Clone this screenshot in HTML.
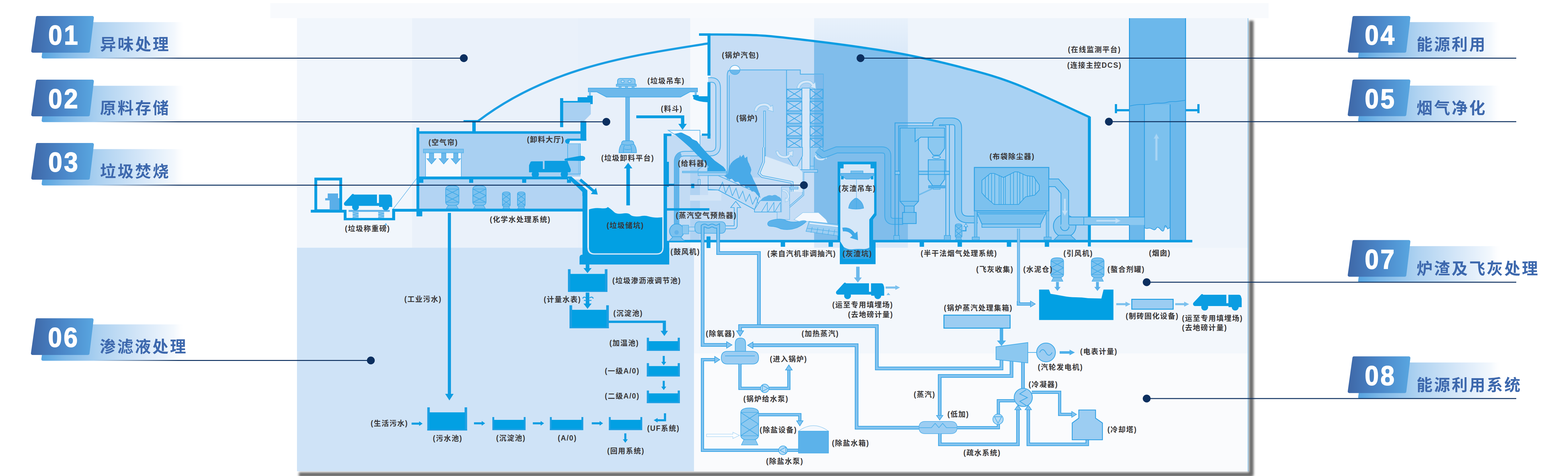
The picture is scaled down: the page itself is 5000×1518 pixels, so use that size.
<!DOCTYPE html>
<html lang="zh"><head><meta charset="utf-8"><title>垃圾焚烧发电工艺流程</title>
<style>
html,body{margin:0;padding:0;background:#fff}
body{width:5000px;height:1518px;position:relative;font-family:"Liberation Sans","Noto Sans CJK SC",sans-serif}
#stage{position:absolute;left:0;top:0;width:5000px;height:1518px;overflow:hidden}
svg{position:absolute;left:0;top:0}
.lb{position:absolute;white-space:nowrap;text-align:center;font-weight:bold;color:#383637;letter-spacing:2px;line-height:1.5;height:1.5em}
.bn{position:absolute;color:#fff;font-weight:bold;font-size:88px;line-height:88px;width:260px;text-align:left;transform:scaleX(0.91);transform-origin:0 50%;letter-spacing:6px;-webkit-text-stroke:2px #fff}
.bt{position:absolute;color:#3d68ad;font-weight:bold;font-size:51px;line-height:60px;letter-spacing:5px;white-space:nowrap}
</style></head>
<body><div id="stage">
<svg width="5000" height="1518" viewBox="0 0 5000 1518">
<defs>
<filter id="sh" filterUnits="userSpaceOnUse" x="900" y="0" width="3200" height="1600"><feGaussianBlur stdDeviation="3.6"/></filter>
<linearGradient id="gb" x1="0" y1="0" x2="1" y2="0"><stop offset="0" stop-color="#3e68a8"/><stop offset="0.5" stop-color="#4a86c8"/><stop offset="1" stop-color="#58a5df"/></linearGradient>
<linearGradient id="gband" x1="0" y1="0" x2="1" y2="0"><stop offset="0" stop-color="#55a3df"/><stop offset="0.18" stop-color="#86bde9"/><stop offset="0.42" stop-color="#b9d8f3"/><stop offset="0.7" stop-color="#e2eefa"/><stop offset="1" stop-color="#ffffff" stop-opacity="0"/></linearGradient>
<linearGradient id="gline" x1="0" y1="0" x2="1" y2="0"><stop offset="0" stop-color="#0c2f5f" stop-opacity="0"/><stop offset="1" stop-color="#0c2f5f"/></linearGradient>
<clipPath id="cz1"><rect x="2000" y="0" width="596" height="1518"/></clipPath>
<clipPath id="cz2"><rect x="2596" y="0" width="299" height="1518"/></clipPath>
<clipPath id="cz3"><rect x="2895" y="0" width="700" height="1518"/></clipPath>
</defs>
<rect x="862" y="10" width="3183" height="48" fill="#f8fafd" />
<path d="M3990,66 V1513.5 H953" fill="none" stroke="#6a6a6a" stroke-width="14.5" stroke-linejoin="round" filter="url(#sh)"/>
<rect x="947" y="58" width="3033" height="1445" fill="#f1f6fc" />
<rect x="1314" y="58" width="529" height="732" fill="#eaf1fa" />
<rect x="1843" y="58" width="358" height="732" fill="#e8f0fa" />
<rect x="2201" y="58" width="395" height="732" fill="#f6f9fd" />
<defs><linearGradient id="gC" x1="0" y1="0" x2="0" y2="1"><stop offset="0" stop-color="#e8f1fb"/><stop offset="0.17" stop-color="#d9e8f8"/><stop offset="1" stop-color="#dbe9f8"/></linearGradient></defs>
<rect x="2596" y="58" width="299" height="732" fill="url(#gC)" />
<rect x="2895" y="58" width="1085" height="732" fill="#eef4fb" />
<rect x="947" y="790" width="1266" height="713" fill="#cfe3f7" />
<rect x="2213" y="790" width="1767" height="337" fill="#f3f7fc" />
<rect x="2213" y="1127" width="1767" height="376" fill="#fafbfd" />
<rect x="3978.8" y="58" width="1.6" height="1445" fill="#5aaee8" />
<path d="M148,70.5 L593,70.5 L593,186.5 L139,186.5 Q132,186.5 133,179.5 Z" fill="url(#gband_01)"/>
<defs><linearGradient id="gband_01" gradientUnits="userSpaceOnUse" x1="133" y1="0" x2="593" y2="0"><stop offset="0" stop-color="#55a3df"/><stop offset="0.15" stop-color="#7db8e8"/><stop offset="0.42" stop-color="#b0d3f1"/><stop offset="0.72" stop-color="#d9e9f9"/><stop offset="0.92" stop-color="#f3f8fd"/><stop offset="1" stop-color="#ffffff" stop-opacity="0"/></linearGradient><linearGradient id="gb_01" gradientUnits="userSpaceOnUse" x1="99" y1="0" x2="298" y2="0"><stop offset="0" stop-color="#3e67a7"/><stop offset="0.5" stop-color="#4a86c8"/><stop offset="1" stop-color="#59a6e0"/></linearGradient><linearGradient id="gl_01" gradientUnits="userSpaceOnUse" x1="299" y1="0" x2="569" y2="0"><stop offset="0" stop-color="#0c2f5f" stop-opacity="0"/><stop offset="1" stop-color="#0c2f5f"/></linearGradient></defs>
<rect x="299" y="184" width="272" height="3" fill="url(#gl_01)"/>
<polygon points="104.6,163 119.6,56 294.4,56 281.4,163" fill="url(#gb_01)" stroke="url(#gb_01)" stroke-width="10" stroke-linejoin="round"/>
<path d="M148,273.5 L593,273.5 L593,389.5 L139,389.5 Q132,389.5 133,382.5 Z" fill="url(#gband_02)"/>
<defs><linearGradient id="gband_02" gradientUnits="userSpaceOnUse" x1="133" y1="0" x2="593" y2="0"><stop offset="0" stop-color="#55a3df"/><stop offset="0.15" stop-color="#7db8e8"/><stop offset="0.42" stop-color="#b0d3f1"/><stop offset="0.72" stop-color="#d9e9f9"/><stop offset="0.92" stop-color="#f3f8fd"/><stop offset="1" stop-color="#ffffff" stop-opacity="0"/></linearGradient><linearGradient id="gb_02" gradientUnits="userSpaceOnUse" x1="99" y1="0" x2="298" y2="0"><stop offset="0" stop-color="#3e67a7"/><stop offset="0.5" stop-color="#4a86c8"/><stop offset="1" stop-color="#59a6e0"/></linearGradient><linearGradient id="gl_02" gradientUnits="userSpaceOnUse" x1="299" y1="0" x2="569" y2="0"><stop offset="0" stop-color="#0c2f5f" stop-opacity="0"/><stop offset="1" stop-color="#0c2f5f"/></linearGradient></defs>
<rect x="299" y="387" width="272" height="3" fill="url(#gl_02)"/>
<polygon points="104.6,366 119.6,259 294.4,259 281.4,366" fill="url(#gb_02)" stroke="url(#gb_02)" stroke-width="10" stroke-linejoin="round"/>
<path d="M148,475.5 L593,475.5 L593,591.5 L139,591.5 Q132,591.5 133,584.5 Z" fill="url(#gband_03)"/>
<defs><linearGradient id="gband_03" gradientUnits="userSpaceOnUse" x1="133" y1="0" x2="593" y2="0"><stop offset="0" stop-color="#55a3df"/><stop offset="0.15" stop-color="#7db8e8"/><stop offset="0.42" stop-color="#b0d3f1"/><stop offset="0.72" stop-color="#d9e9f9"/><stop offset="0.92" stop-color="#f3f8fd"/><stop offset="1" stop-color="#ffffff" stop-opacity="0"/></linearGradient><linearGradient id="gb_03" gradientUnits="userSpaceOnUse" x1="99" y1="0" x2="298" y2="0"><stop offset="0" stop-color="#3e67a7"/><stop offset="0.5" stop-color="#4a86c8"/><stop offset="1" stop-color="#59a6e0"/></linearGradient><linearGradient id="gl_03" gradientUnits="userSpaceOnUse" x1="299" y1="0" x2="569" y2="0"><stop offset="0" stop-color="#0c2f5f" stop-opacity="0"/><stop offset="1" stop-color="#0c2f5f"/></linearGradient></defs>
<rect x="299" y="589" width="272" height="3" fill="url(#gl_03)"/>
<polygon points="104.6,568 119.6,461 294.4,461 281.4,568" fill="url(#gb_03)" stroke="url(#gb_03)" stroke-width="10" stroke-linejoin="round"/>
<path d="M147,1034.5 L592,1034.5 L592,1150.5 L138,1150.5 Q131,1150.5 132,1143.5 Z" fill="url(#gband_06)"/>
<defs><linearGradient id="gband_06" gradientUnits="userSpaceOnUse" x1="132" y1="0" x2="592" y2="0"><stop offset="0" stop-color="#55a3df"/><stop offset="0.15" stop-color="#7db8e8"/><stop offset="0.42" stop-color="#b0d3f1"/><stop offset="0.72" stop-color="#d9e9f9"/><stop offset="0.92" stop-color="#f3f8fd"/><stop offset="1" stop-color="#ffffff" stop-opacity="0"/></linearGradient><linearGradient id="gb_06" gradientUnits="userSpaceOnUse" x1="98" y1="0" x2="297" y2="0"><stop offset="0" stop-color="#3e67a7"/><stop offset="0.5" stop-color="#4a86c8"/><stop offset="1" stop-color="#59a6e0"/></linearGradient><linearGradient id="gl_06" gradientUnits="userSpaceOnUse" x1="298" y1="0" x2="568" y2="0"><stop offset="0" stop-color="#0c2f5f" stop-opacity="0"/><stop offset="1" stop-color="#0c2f5f"/></linearGradient></defs>
<rect x="298" y="1148" width="272" height="3" fill="url(#gl_06)"/>
<polygon points="103.6,1127 118.6,1020 293.4,1020 280.4,1127" fill="url(#gb_06)" stroke="url(#gb_06)" stroke-width="10" stroke-linejoin="round"/>
<path d="M4346,70.5 L4791,70.5 L4791,186.5 L4337,186.5 Q4330,186.5 4331,179.5 Z" fill="url(#gband_04)"/>
<defs><linearGradient id="gband_04" gradientUnits="userSpaceOnUse" x1="4331" y1="0" x2="4791" y2="0"><stop offset="0" stop-color="#55a3df"/><stop offset="0.15" stop-color="#7db8e8"/><stop offset="0.42" stop-color="#b0d3f1"/><stop offset="0.72" stop-color="#d9e9f9"/><stop offset="0.92" stop-color="#f3f8fd"/><stop offset="1" stop-color="#ffffff" stop-opacity="0"/></linearGradient><linearGradient id="gb_04" gradientUnits="userSpaceOnUse" x1="4297" y1="0" x2="4496" y2="0"><stop offset="0" stop-color="#3e67a7"/><stop offset="0.5" stop-color="#4a86c8"/><stop offset="1" stop-color="#59a6e0"/></linearGradient><linearGradient id="gl_04" gradientUnits="userSpaceOnUse" x1="4497" y1="0" x2="4767" y2="0"><stop offset="0" stop-color="#0c2f5f" stop-opacity="0"/><stop offset="1" stop-color="#0c2f5f"/></linearGradient></defs>
<polygon points="4302.6,163 4317.6,56 4492.4,56 4479.4,163" fill="url(#gb_04)" stroke="url(#gb_04)" stroke-width="10" stroke-linejoin="round"/>
<path d="M4346,273 L4791,273 L4791,389 L4337,389 Q4330,389 4331,382 Z" fill="url(#gband_05)"/>
<defs><linearGradient id="gband_05" gradientUnits="userSpaceOnUse" x1="4331" y1="0" x2="4791" y2="0"><stop offset="0" stop-color="#55a3df"/><stop offset="0.15" stop-color="#7db8e8"/><stop offset="0.42" stop-color="#b0d3f1"/><stop offset="0.72" stop-color="#d9e9f9"/><stop offset="0.92" stop-color="#f3f8fd"/><stop offset="1" stop-color="#ffffff" stop-opacity="0"/></linearGradient><linearGradient id="gb_05" gradientUnits="userSpaceOnUse" x1="4297" y1="0" x2="4496" y2="0"><stop offset="0" stop-color="#3e67a7"/><stop offset="0.5" stop-color="#4a86c8"/><stop offset="1" stop-color="#59a6e0"/></linearGradient><linearGradient id="gl_05" gradientUnits="userSpaceOnUse" x1="4497" y1="0" x2="4767" y2="0"><stop offset="0" stop-color="#0c2f5f" stop-opacity="0"/><stop offset="1" stop-color="#0c2f5f"/></linearGradient></defs>
<polygon points="4302.6,365.5 4317.6,258.5 4492.4,258.5 4479.4,365.5" fill="url(#gb_05)" stroke="url(#gb_05)" stroke-width="10" stroke-linejoin="round"/>
<path d="M4346,785 L4791,785 L4791,901 L4337,901 Q4330,901 4331,894 Z" fill="url(#gband_07)"/>
<defs><linearGradient id="gband_07" gradientUnits="userSpaceOnUse" x1="4331" y1="0" x2="4791" y2="0"><stop offset="0" stop-color="#55a3df"/><stop offset="0.15" stop-color="#7db8e8"/><stop offset="0.42" stop-color="#b0d3f1"/><stop offset="0.72" stop-color="#d9e9f9"/><stop offset="0.92" stop-color="#f3f8fd"/><stop offset="1" stop-color="#ffffff" stop-opacity="0"/></linearGradient><linearGradient id="gb_07" gradientUnits="userSpaceOnUse" x1="4297" y1="0" x2="4496" y2="0"><stop offset="0" stop-color="#3e67a7"/><stop offset="0.5" stop-color="#4a86c8"/><stop offset="1" stop-color="#59a6e0"/></linearGradient><linearGradient id="gl_07" gradientUnits="userSpaceOnUse" x1="4497" y1="0" x2="4767" y2="0"><stop offset="0" stop-color="#0c2f5f" stop-opacity="0"/><stop offset="1" stop-color="#0c2f5f"/></linearGradient></defs>
<polygon points="4302.6,877.5 4317.6,770.5 4492.4,770.5 4479.4,877.5" fill="url(#gb_07)" stroke="url(#gb_07)" stroke-width="10" stroke-linejoin="round"/>
<path d="M4346,1156 L4791,1156 L4791,1272 L4337,1272 Q4330,1272 4331,1265 Z" fill="url(#gband_08)"/>
<defs><linearGradient id="gband_08" gradientUnits="userSpaceOnUse" x1="4331" y1="0" x2="4791" y2="0"><stop offset="0" stop-color="#55a3df"/><stop offset="0.15" stop-color="#7db8e8"/><stop offset="0.42" stop-color="#b0d3f1"/><stop offset="0.72" stop-color="#d9e9f9"/><stop offset="0.92" stop-color="#f3f8fd"/><stop offset="1" stop-color="#ffffff" stop-opacity="0"/></linearGradient><linearGradient id="gb_08" gradientUnits="userSpaceOnUse" x1="4297" y1="0" x2="4496" y2="0"><stop offset="0" stop-color="#3e67a7"/><stop offset="0.5" stop-color="#4a86c8"/><stop offset="1" stop-color="#59a6e0"/></linearGradient><linearGradient id="gl_08" gradientUnits="userSpaceOnUse" x1="4497" y1="0" x2="4767" y2="0"><stop offset="0" stop-color="#0c2f5f" stop-opacity="0"/><stop offset="1" stop-color="#0c2f5f"/></linearGradient></defs>
<polygon points="4302.6,1248.5 4317.6,1141.5 4492.4,1141.5 4479.4,1248.5" fill="url(#gb_08)" stroke="url(#gb_08)" stroke-width="10" stroke-linejoin="round"/>
<rect x="3600" y="58" width="182" height="707" fill="#6cb8eb" />
<rect x="3649" y="333" width="82" height="393" fill="#7cc1ee" />
<rect x="3649" y="726" width="82" height="39" fill="#eef4fb" />
<path d="M3649,726 q6,4 12,2 t14,3 t12,-3 t14,4 t12,-5 t10,3 l8,-4" fill="#7cc1ee" stroke="#2a9de3" stroke-width="2" />
<rect x="3600" y="58" width="3" height="707" fill="#2a9de3" />
<rect x="3779" y="58" width="3" height="707" fill="#2a9de3" />
<rect x="3648" y="333" width="2.5" height="432" fill="#2a9de3" />
<rect x="3730" y="333" width="2.5" height="432" fill="#2a9de3" />
<path d="M3603,338 q12,-3 22,-4 t24,-1 q14,1 24,-2 t28,-2 q14,0 22,-3 t26,-2 l30,-4" fill="none" stroke="#2a9de3" stroke-width="2" />
<rect x="3555" y="332" width="7" height="29" fill="#0b9de2" />
<rect x="3555" y="348" width="45" height="7" fill="#0b9de2" />
<rect x="3818" y="332" width="7" height="29" fill="#0b9de2" />
<rect x="3782" y="348" width="43" height="7" fill="#0b9de2" />
<polygon points="3687.5,426 3696,442 3691,442 3691,512 3684,512 3684,442 3679,442" fill="#a9d5f4" stroke="#8fc9f1" stroke-width="1.5"/>
<path d="M2229,110 C2245.8,110.0 2294.8,109.6 2330,110.3 C2365.2,111.0 2395.7,110.5 2440,114 C2484.3,117.5 2544.3,124.8 2596,131 C2647.7,137.2 2700.2,144.1 2750,151.5 C2799.8,158.9 2841.7,164.8 2895,175.5 C2948.3,186.2 3012.5,200.5 3070,216 C3127.5,231.5 3172.5,242.2 3240,268.5 C3307.5,294.8 3435.8,356.4 3475,374 L3475,768 L2127,768 L2127,431 L2265,431 L2265,110 Z" fill="#c6ddf5" clip-path="url(#cz1)"/>
<path d="M2229,110 C2245.8,110.0 2294.8,109.6 2330,110.3 C2365.2,111.0 2395.7,110.5 2440,114 C2484.3,117.5 2544.3,124.8 2596,131 C2647.7,137.2 2700.2,144.1 2750,151.5 C2799.8,158.9 2841.7,164.8 2895,175.5 C2948.3,186.2 3012.5,200.5 3070,216 C3127.5,231.5 3172.5,242.2 3240,268.5 C3307.5,294.8 3435.8,356.4 3475,374 L3475,768 L2127,768 L2127,431 L2265,431 L2265,110 Z" fill="#80bdeb" clip-path="url(#cz2)"/>
<path d="M2229,110 C2245.8,110.0 2294.8,109.6 2330,110.3 C2365.2,111.0 2395.7,110.5 2440,114 C2484.3,117.5 2544.3,124.8 2596,131 C2647.7,137.2 2700.2,144.1 2750,151.5 C2799.8,158.9 2841.7,164.8 2895,175.5 C2948.3,186.2 3012.5,200.5 3070,216 C3127.5,231.5 3172.5,242.2 3240,268.5 C3307.5,294.8 3435.8,356.4 3475,374 L3475,768 L2127,768 L2127,431 L2265,431 L2265,110 Z" fill="#a9d2f3" clip-path="url(#cz3)"/>
<rect x="2127" y="431" width="74" height="337" fill="#c2dbf4" />
<rect x="1337" y="426" width="514" height="137" fill="#a9d0f2" />
<rect x="1337" y="572" width="521" height="94" fill="#b3d4f3" />
<polygon points="1796,326 1884,326 1884,364 1862,386.5 1796,386.5" fill="#a9d0f2" />
<rect x="1810" y="458" width="40.5" height="97" fill="#9fcdf2" stroke="#4aaee9" stroke-width="2"/>
<polyline points="1845,458 1845,555" fill="none" stroke="#6cb8eb" stroke-width="1.5" />
<path d="M1524,386.5 C1756,209 2032,175 2258,138.5" fill="none" stroke="#1a9ee3" stroke-width="7" />
<rect x="1478" y="383" width="52" height="7" fill="#0b9de2" />
<rect x="1506" y="390" width="11" height="30" fill="#0b9de2" />
<path d="M2229,110 C2245.8,110.0 2294.8,109.6 2330,110.3 C2365.2,111.0 2395.7,110.5 2440,114 C2484.3,117.5 2544.3,124.8 2596,131 C2647.7,137.2 2700.2,144.1 2750,151.5 C2799.8,158.9 2841.7,164.8 2895,175.5 C2948.3,186.2 3012.5,200.5 3070,216 C3127.5,231.5 3172.5,242.2 3240,268.5 C3307.5,294.8 3435.8,356.4 3475,374" fill="none" stroke="#0b9de2" stroke-width="7" />
<rect x="3469" y="372" width="9.5" height="414" fill="#0b9de2" />
<rect x="1007" y="571" width="79.5" height="101" fill="none" stroke="#0b9de2" stroke-width="9"/>
<path d="M991,669 H1105 V695 H1250.5 V666 H1332 V675 H1260 V702.5 H1096 V678 H991 Z" fill="#0b9de2" />
<rect x="1045" y="617" width="33" height="15" fill="#5aaee8" />
<rect x="1037" y="632" width="45" height="7" fill="#5aaee8" />
<rect x="1051" y="639" width="31" height="30" fill="#5aaee8" />
<rect x="1111.5" y="669.5" width="131.5" height="6" fill="#5cb2ea" />
<rect x="1124.5" y="675.5" width="19" height="19.5" fill="#8cc8f0" />
<polyline points="1124.5,677 1143.5,681 1124.5,685 1143.5,689 1124.5,694" fill="none" stroke="#4aaee9" stroke-width="1.5" />
<rect x="1206" y="675.5" width="19" height="19.5" fill="#8cc8f0" />
<polyline points="1206,677 1225,681 1206,685 1225,689 1206,694" fill="none" stroke="#4aaee9" stroke-width="1.5" />
<polyline points="1254,666 1330,567" fill="none" stroke="#5cb2ea" stroke-width="1.5" />
<polygon points="1230.5,711 1226,718 1235,718" fill="#5cb2ea" />
<rect x="1328" y="407" width="9" height="283" fill="#0b9de2" />
<rect x="1328" y="670" width="18.5" height="20" fill="#0b9de2" />
<rect x="1328" y="418.5" width="540" height="8" fill="#0b9de2" />
<rect x="1337" y="563" width="475" height="9" fill="#0b9de2" />
<rect x="1337" y="665.5" width="521" height="9" fill="#0b9de2" />
<rect x="1337" y="572" width="13" height="11" fill="#0b9de2" />
<rect x="1496" y="572" width="13" height="11" fill="#0b9de2" />
<rect x="1665" y="572" width="13" height="11" fill="#0b9de2" />
<rect x="1808" y="572" width="13" height="11" fill="#0b9de2" />
<rect x="1851" y="386" width="18.5" height="62.5" fill="#0b9de2" />
<rect x="1815" y="448.5" width="36" height="9" fill="#eef3fb" />
<rect x="1809" y="442" width="60.5" height="6.5" fill="#0b9de2" />
<circle cx="1809.5" cy="450.5" r="7.5" fill="#0b9de2"/>
<rect x="1786" y="313" width="10" height="92.5" fill="#0b9de2" />
<rect x="1796" y="322" width="46" height="5" fill="#0b9de2" />
<rect x="1842" y="310" width="43" height="17" fill="#0b9de2" />
<rect x="1882" y="306" width="8" height="26" fill="#0b9de2" />
<path d="M1802,506 L1850,497 Q1866,496 1866,505 Q1866,514 1850,513 L1802,512.5 Q1798,509 1802,506 Z" fill="#0b9de2" />
<polygon points="1806,563 1822,563 1872,606 1872,625 1857,625 1857,612" fill="#0b9de2" />
<polygon points="1847.09,576.432 1889.36,612.288 1883.86,618.771 1906,620.5 1900.68,598.943 1895.18,605.425 1852.91,569.568" fill="#0b9de2" />
<path d="M1857.5,607 H1873 V790 Q1873,812 1896,812 H2093 Q2116,812 2116,790 V426 H2141 V434 H2127 V768 H2134 V843.5 H1848 V822 Q1848,812 1857.5,812 Z" fill="#0b9de2" />
<path d="M1876.5,700 V790 Q1876.5,808.5 1896,808.5 H2093 Q2112.5,808.5 2112.5,790 V700" fill="none" stroke="#d9ecfa" stroke-width="1.5" />
<path d="M1878,668 Q1895,662 1915,664 T1938,660 Q1950,668 1958,676 T1985,681 T2010,685 T2040,690 Q2055,686 2068,690 T2096,694 L2112,693 V790 Q2112,808 2093,808 H1897 Q1878,808 1878,790 Z" fill="#02a0e3" />
<polygon points="2008.75,655 2008.75,537 2016.5,537 2003,519 1989.5,537 1997.25,537 1997.25,655" fill="#0b9de2" />
<polygon points="1867.75,843 1867.75,855 1860.5,855 1873.5,871 1886.5,855 1879.25,855 1879.25,843" fill="#0b9de2" />
<rect x="2134" y="765" width="1668" height="8" fill="#0b9de2" />
<rect x="2489.5" y="773" width="14" height="14" fill="#0b9de2" />
<rect x="2642" y="773" width="14" height="14" fill="#0b9de2" />
<rect x="2932.5" y="773" width="14" height="14" fill="#0b9de2" />
<rect x="3053.5" y="773" width="14" height="14" fill="#0b9de2" />
<rect x="3210.5" y="773" width="14" height="14" fill="#0b9de2" />
<rect x="3331.5" y="773" width="14" height="14" fill="#0b9de2" />
<rect x="2256" y="110" width="9.5" height="131" fill="#0b9de2" />
<rect x="2256" y="262" width="9.5" height="180" fill="#0b9de2" />
<rect x="2238" y="426" width="27.5" height="7" fill="#0b9de2" />
<rect x="2229" y="106.5" width="36.5" height="7.5" fill="#0b9de2" />
<path d="M2211,307 H2256 V326 Q2228,325 2211,316 Z" fill="#0b9de2" />
<rect x="2240" y="308.5" width="16" height="15" fill="#0b9de2" />
<path d="M2029,368 H2182 V395 H2190 L2176.5,414 L2163,395 H2171.5 V377 H2029 Z" fill="#0b9de2" />
<path d="M2671,515.5 H2795 V686 L2784,700 V768 H2792 V842.5 H2678 V768 H2671 Z" fill="#0b9de2" />
<path d="M2679.5,537 H2690 V524 H2776 V537 H2787.5 V680 L2772,700 V775 L2773,826 H2688 L2692,790 L2679.5,770 Z" fill="#d6e7f8" />
<path d="M2691,788 Q2705,797 2720,795 T2750,794 T2772.5,789 L2773,826 H2688 Z" fill="#2fa4e5" />
<rect x="1357" y="487" width="114" height="76" fill="#f4f8fd" />
<rect x="1356" y="487" width="2" height="76" fill="#5cb2ea" />
<rect x="1470" y="487" width="2" height="76" fill="#5cb2ea" />
<rect x="1350" y="475.5" width="128" height="12" fill="#7cc1ee" stroke="#4aaee9" stroke-width="1.5"/>
<polygon points="1369,488 1383,488 1383,506 1391,506 1376,523 1361,506 1369,506" fill="#6cb8eb" stroke="#3fa9e8" stroke-width="1.5"/>
<polygon points="1408,488 1422,488 1422,506 1430,506 1415,523 1400,506 1408,506" fill="#6cb8eb" stroke="#3fa9e8" stroke-width="1.5"/>
<polygon points="1446.5,488 1460.5,488 1460.5,506 1468.5,506 1453.5,523 1438.5,506 1446.5,506" fill="#6cb8eb" stroke="#3fa9e8" stroke-width="1.5"/>
<path d="M1421,603.9 Q1421,592 1442.25,592 Q1463.5,592 1463.5,603.9 V644.1 Q1463.5,656 1442.25,656 Q1421,656 1421,644.1 Z" fill="#7cc1ee" stroke="#3fa9e8" stroke-width="2" />
<polyline points="1421,602.71 1463.5,624" fill="none" stroke="#3fa9e8" stroke-width="2" />
<polyline points="1463.5,602.71 1421,624" fill="none" stroke="#3fa9e8" stroke-width="2" />
<polyline points="1421,624 1463.5,645.29" fill="none" stroke="#3fa9e8" stroke-width="2" />
<polyline points="1463.5,624 1421,645.29" fill="none" stroke="#3fa9e8" stroke-width="2" />
<polyline points="1421,602.71 1463.5,602.71" fill="none" stroke="#3fa9e8" stroke-width="1.5" />
<polyline points="1421,645.29 1463.5,645.29" fill="none" stroke="#3fa9e8" stroke-width="1.5" />
<polygon points="1429.5,655 1455,655 1461.38,665 1423.12,665" fill="#7cc1ee" stroke="#3fa9e8" stroke-width="1.5"/>
<path d="M1507.5,603.9 Q1507.5,592 1528.75,592 Q1550,592 1550,603.9 V644.1 Q1550,656 1528.75,656 Q1507.5,656 1507.5,644.1 Z" fill="#7cc1ee" stroke="#3fa9e8" stroke-width="2" />
<polyline points="1507.5,602.71 1550,624" fill="none" stroke="#3fa9e8" stroke-width="2" />
<polyline points="1550,602.71 1507.5,624" fill="none" stroke="#3fa9e8" stroke-width="2" />
<polyline points="1507.5,624 1550,645.29" fill="none" stroke="#3fa9e8" stroke-width="2" />
<polyline points="1550,624 1507.5,645.29" fill="none" stroke="#3fa9e8" stroke-width="2" />
<polyline points="1507.5,602.71 1550,602.71" fill="none" stroke="#3fa9e8" stroke-width="1.5" />
<polyline points="1507.5,645.29 1550,645.29" fill="none" stroke="#3fa9e8" stroke-width="1.5" />
<polygon points="1516,655 1541.5,655 1547.88,665 1509.62,665" fill="#7cc1ee" stroke="#3fa9e8" stroke-width="1.5"/>
<path d="M1602,619 Q1602,612 1614.5,612 Q1627,612 1627,619 V653 Q1627,660 1614.5,660 Q1602,660 1602,653 Z" fill="#7cc1ee" stroke="#3fa9e8" stroke-width="2" />
<polyline points="1602,618.3 1627,636" fill="none" stroke="#3fa9e8" stroke-width="2" />
<polyline points="1627,618.3 1602,636" fill="none" stroke="#3fa9e8" stroke-width="2" />
<polyline points="1602,636 1627,653.7" fill="none" stroke="#3fa9e8" stroke-width="2" />
<polyline points="1627,636 1602,653.7" fill="none" stroke="#3fa9e8" stroke-width="2" />
<polyline points="1602,618.3 1627,618.3" fill="none" stroke="#3fa9e8" stroke-width="1.5" />
<polyline points="1602,653.7 1627,653.7" fill="none" stroke="#3fa9e8" stroke-width="1.5" />
<polygon points="1607,659 1622,659 1625.75,665 1603.25,665" fill="#7cc1ee" stroke="#3fa9e8" stroke-width="1.5"/>
<path d="M1650,618.86 Q1650,612 1662.25,612 Q1674.5,612 1674.5,618.86 V653.14 Q1674.5,660 1662.25,660 Q1650,660 1650,653.14 Z" fill="#7cc1ee" stroke="#3fa9e8" stroke-width="2" />
<polyline points="1650,618.174 1674.5,636" fill="none" stroke="#3fa9e8" stroke-width="2" />
<polyline points="1674.5,618.174 1650,636" fill="none" stroke="#3fa9e8" stroke-width="2" />
<polyline points="1650,636 1674.5,653.826" fill="none" stroke="#3fa9e8" stroke-width="2" />
<polyline points="1674.5,636 1650,653.826" fill="none" stroke="#3fa9e8" stroke-width="2" />
<polyline points="1650,618.174 1674.5,618.174" fill="none" stroke="#3fa9e8" stroke-width="1.5" />
<polyline points="1650,653.826 1674.5,653.826" fill="none" stroke="#3fa9e8" stroke-width="1.5" />
<polygon points="1654.9,659 1669.6,659 1673.28,665 1651.22,665" fill="#7cc1ee" stroke="#3fa9e8" stroke-width="1.5"/>
<g transform="translate(1096,617) scale(1,1)" fill="#0b9de2"><path d="M3,38 Q-1,34 2,29 L26,3 Q29.5,-1 33,3.6 H106 V30.4 H112.4 V3.6 H145 Q150,3.6 152,8 L154.5,16 V43 H113 V39.4 H7 Q4,39.4 3,38 Z"/><circle cx="37.6" cy="43" r="10.8"/><circle cx="134" cy="43" r="10.8"/></g>
<path d="M1687,553 V527 L1692,516 Q1693,514.5 1696,514.5 H1731 V539 H1736.5 V513 H1809 L1820,540 Q1821,545 1818,549.5 H1687 Z" fill="#0b9de2" />
<circle cx="1707" cy="556" r="11.5" fill="#0b9de2"/>
<circle cx="1799.5" cy="556" r="11.5" fill="#0b9de2"/>
<g transform="translate(2665,900) scale(1,1)" fill="#0b9de2"><path d="M3,38 Q-1,34 2,29 L26,3 Q29.5,-1 33,3.6 H106 V30.4 H112.4 V3.6 H145 Q150,3.6 152,8 L154.5,16 V43 H113 V39.4 H7 Q4,39.4 3,38 Z"/><circle cx="37.6" cy="43" r="10.8"/><circle cx="134" cy="43" r="10.8"/></g>
<g transform="translate(3803.5,936.5) scale(1.00968,1)" fill="#0b9de2"><path d="M3,38 Q-1,34 2,29 L26,3 Q29.5,-1 33,3.6 H106 V30.4 H112.4 V3.6 H145 Q150,3.6 152,8 L154.5,16 V43 H113 V39.4 H7 Q4,39.4 3,38 Z"/><circle cx="37.6" cy="43" r="10.8"/><circle cx="134" cy="43" r="10.8"/></g>
<rect x="1428" y="679" width="10" height="579" fill="#119de2" />
<polygon points="1419.5,1256 1446.5,1256 1433,1277" fill="#119de2" />
<rect x="1995" y="309" width="12.5" height="142" fill="#6cb8eb" stroke="#3fa9e8" stroke-width="1.5"/>
<path d="M1876,281 H2224 V293 H2200 L2170,309.5 H1934 L1903,293 H1876 Z" fill="#6cb8eb" stroke="#3fa9e8" stroke-width="2" />
<rect x="1878" y="293" width="6" height="13" fill="#7cc1ee" />
<rect x="2215" y="293" width="7" height="13" fill="#7cc1ee" />
<rect x="1873" y="305" width="17" height="5" fill="#0b9de2" />
<rect x="2209" y="303" width="19" height="5" fill="#0b9de2" />
<path d="M1969,275 V259 Q1969,250 1978,250 H2016 Q2025.5,250 2025.5,259 V275 Z" fill="#8cc8f0" stroke="#3fa9e8" stroke-width="2" />
<rect x="1965" y="268.5" width="64" height="7" fill="#7cc1ee" stroke="#3fa9e8" stroke-width="1.5"/>
<rect x="1973.5" y="275.5" width="7.5" height="5.5" fill="#7cc1ee" stroke="#3fa9e8" stroke-width="1"/>
<rect x="1994" y="275.5" width="7.5" height="5.5" fill="#7cc1ee" stroke="#3fa9e8" stroke-width="1"/>
<rect x="2015" y="275.5" width="7.5" height="5.5" fill="#7cc1ee" stroke="#3fa9e8" stroke-width="1"/>
<ellipse cx="1985.5" cy="259.5" rx="5" ry="4.2" fill="#b9dcf6" stroke="#3fa9e8" stroke-width="1.8"/>
<ellipse cx="2007.5" cy="259.5" rx="5" ry="4.2" fill="#b9dcf6" stroke="#3fa9e8" stroke-width="1.8"/>
<path d="M1988,449 H2015 Q2022,452 2021,459 Q2030,470 2029.5,487 H1974 Q1973.5,470 1982,459 Q1981,452 1988,449 Z" fill="#7cc1ee" stroke="#3fa9e8" stroke-width="2" />
<path d="M1983,460 Q2001,466 2020,460 M1988,487 Q1987,472 1991,464 M2014,487 Q2015,472 2011,464 M1990,475 Q2001,479 2013,475" fill="none" stroke="#3fa9e8" stroke-width="1.8" />
<rect x="2201" y="431" width="31" height="334" fill="#b0d2f2" />
<path d="M2157.5,740 V516 Q2157.5,490 2184,490 H2264 Q2290,490 2290,464 V280 Q2290,255 2268,255 H2258" fill="none" stroke="#4aaee9" stroke-width="17" />
<path d="M2157.5,740 V516 Q2157.5,490 2184,490 H2264 Q2290,490 2290,464 V280 Q2290,255 2268,255 H2258" fill="none" stroke="#b9d8f4" stroke-width="12" />
<path d="M2157.5,740 V516 Q2157.5,496 2172,491.5" fill="none" stroke="#62b4ea" stroke-width="12" />
<path d="M2319,223 H2552 V236.5 H2625 V470 L2606,490 L2560,500 L2530,530 L2440,497 L2420,552 L2428,566 H2319 Z" fill="#b1d3f3" />
<path d="M2319,575 V240 Q2319,223 2332,223 H2552 V236.5 H2625 V468" fill="none" stroke="#4aaee9" stroke-width="2.5" />
<rect x="2596" y="237" width="29" height="233" fill="#7db9ea" />
<polyline points="2325.5,575 2325.5,240" fill="none" stroke="#4aaee9" stroke-width="2" />
<polyline points="2508,223 2508,470" fill="none" stroke="#4aaee9" stroke-width="2.5" />
<ellipse cx="2343.5" cy="223" rx="16" ry="14.5" fill="#f7fafd" stroke="#5cb2ea" stroke-width="2"/>
<path d="M2327.5,223 A16,14.5 0 0 0 2359.5,223 Z" fill="#6cb8eb" stroke="#4aaee9" stroke-width="1.5" />
<rect x="2557" y="281" width="26" height="264" fill="#d6e7f8" stroke="#4aaee9" stroke-width="2"/>
<rect x="2509" y="284.5" width="48" height="30" fill="none" stroke="#3fa9e8" stroke-width="2.5"/>
<polyline points="2509,284.5 2557,314.5" fill="none" stroke="#3fa9e8" stroke-width="2.2" />
<polyline points="2557,284.5 2509,314.5" fill="none" stroke="#3fa9e8" stroke-width="2.2" />
<rect x="2509" y="314.5" width="48" height="9" fill="#5cb2ea" opacity="0.55"/>
<rect x="2509" y="323.5" width="48" height="30" fill="none" stroke="#3fa9e8" stroke-width="2.5"/>
<polyline points="2509,323.5 2557,353.5" fill="none" stroke="#3fa9e8" stroke-width="2.2" />
<polyline points="2557,323.5 2509,353.5" fill="none" stroke="#3fa9e8" stroke-width="2.2" />
<rect x="2509" y="353.5" width="48" height="9" fill="#5cb2ea" opacity="0.55"/>
<rect x="2509" y="363" width="48" height="30" fill="none" stroke="#3fa9e8" stroke-width="2.5"/>
<polyline points="2509,363 2557,393" fill="none" stroke="#3fa9e8" stroke-width="2.2" />
<polyline points="2557,363 2509,393" fill="none" stroke="#3fa9e8" stroke-width="2.2" />
<rect x="2509" y="393" width="48" height="9" fill="#5cb2ea" opacity="0.55"/>
<rect x="2509" y="403" width="48" height="30" fill="none" stroke="#3fa9e8" stroke-width="2.5"/>
<polyline points="2509,403 2557,433" fill="none" stroke="#3fa9e8" stroke-width="2.2" />
<polyline points="2557,403 2509,433" fill="none" stroke="#3fa9e8" stroke-width="2.2" />
<rect x="2509" y="433" width="48" height="9" fill="#5cb2ea" opacity="0.55"/>
<rect x="2509" y="442" width="48" height="30" fill="none" stroke="#3fa9e8" stroke-width="2.5"/>
<polyline points="2509,442 2557,472" fill="none" stroke="#3fa9e8" stroke-width="2.2" />
<polyline points="2557,442 2509,472" fill="none" stroke="#3fa9e8" stroke-width="2.2" />
<rect x="2509" y="472" width="48" height="9" fill="#5cb2ea" opacity="0.55"/>
<rect x="2583" y="284.5" width="41" height="30" fill="none" stroke="#3fa9e8" stroke-width="2.5"/>
<polyline points="2583,284.5 2624,314.5" fill="none" stroke="#3fa9e8" stroke-width="2.2" />
<polyline points="2624,284.5 2583,314.5" fill="none" stroke="#3fa9e8" stroke-width="2.2" />
<rect x="2583" y="314.5" width="41" height="9" fill="#5cb2ea" opacity="0.55"/>
<rect x="2583" y="323.5" width="41" height="30" fill="none" stroke="#3fa9e8" stroke-width="2.5"/>
<polyline points="2583,323.5 2624,353.5" fill="none" stroke="#3fa9e8" stroke-width="2.2" />
<polyline points="2624,323.5 2583,353.5" fill="none" stroke="#3fa9e8" stroke-width="2.2" />
<rect x="2583" y="353.5" width="41" height="9" fill="#5cb2ea" opacity="0.55"/>
<rect x="2583" y="363" width="41" height="30" fill="none" stroke="#3fa9e8" stroke-width="2.5"/>
<polyline points="2583,363 2624,393" fill="none" stroke="#3fa9e8" stroke-width="2.2" />
<polyline points="2624,363 2583,393" fill="none" stroke="#3fa9e8" stroke-width="2.2" />
<rect x="2583" y="393" width="41" height="9" fill="#5cb2ea" opacity="0.55"/>
<rect x="2583" y="403" width="41" height="30" fill="none" stroke="#3fa9e8" stroke-width="2.5"/>
<polyline points="2583,403 2624,433" fill="none" stroke="#3fa9e8" stroke-width="2.2" />
<polyline points="2624,403 2583,433" fill="none" stroke="#3fa9e8" stroke-width="2.2" />
<rect x="2583" y="433" width="41" height="9" fill="#5cb2ea" opacity="0.55"/>
<rect x="2583" y="442" width="41" height="30" fill="none" stroke="#3fa9e8" stroke-width="2.5"/>
<polyline points="2583,442 2624,472" fill="none" stroke="#3fa9e8" stroke-width="2.2" />
<polyline points="2624,442 2583,472" fill="none" stroke="#3fa9e8" stroke-width="2.2" />
<rect x="2583" y="472" width="41" height="9" fill="#5cb2ea" opacity="0.55"/>
<path d="M2508,470 H2559 V497 L2541,530 H2530 L2508,497 Z" fill="#b1d3f3" stroke="#4aaee9" stroke-width="2" />
<path d="M2583,470 H2624 V478 L2596,503 V530 H2583 Z" fill="#9ccdf2" stroke="#4aaee9" stroke-width="2" />
<rect x="2530" y="530" width="11" height="11" fill="#b1d3f3" stroke="#4aaee9" stroke-width="1.5"/>
<rect x="2583" y="530" width="13" height="11" fill="#9ccdf2" stroke="#4aaee9" stroke-width="1.5"/>
<rect x="2512" y="541" width="95" height="8.5" fill="#a6d0f3" stroke="#4aaee9" stroke-width="2"/>
<path d="M2561,549 V622 L2517,660" fill="none" stroke="#4aaee9" stroke-width="6" />
<path d="M2561,549 V622 L2517,660" fill="none" stroke="#c6ddf5" stroke-width="2.5" />
<g transform="translate(2405,327) rotate(0) scale(1.05,1.05)"><path d="M0,26 Q4,2 32,2 Q44,2 50,12 L56,8 L58,28 L40,22 L45,18 Q40,10 31,10 Q12,10 8,27 Z" fill="#d7e8f8" stroke="#8cc8f0" stroke-width="1.8"/></g>
<g transform="translate(2541,254) rotate(0) scale(1.05,1.05)"><path d="M0,26 Q4,2 32,2 Q44,2 50,12 L56,8 L58,28 L40,22 L45,18 Q40,10 31,10 Q12,10 8,27 Z" fill="#d7e8f8" stroke="#8cc8f0" stroke-width="1.8"/></g>
<g transform="translate(2474,507) rotate(0) scale(0.95,-0.95)"><path d="M0,26 Q4,2 32,2 Q44,2 50,12 L56,8 L58,28 L40,22 L45,18 Q40,10 31,10 Q12,10 8,27 Z" fill="#d7e8f8" stroke="#8cc8f0" stroke-width="1.8"/></g>
<g transform="translate(2597,513) rotate(0) scale(0.7,-0.7)"><path d="M0,26 Q4,2 32,2 Q44,2 50,12 L56,8 L58,28 L40,22 L45,18 Q40,10 31,10 Q12,10 8,27 Z" fill="#d7e8f8" stroke="#8cc8f0" stroke-width="1.8"/></g>
<rect x="2435" y="354" width="6" height="143" fill="#b9d9f5" stroke="#4aaee9" stroke-width="1.8"/>
<path d="M2441,499 L2530,530 H2541 L2559,549 V612 L2526,612 V582 L2430,563 L2420,553 Z" fill="#d9e9f8" />
<path d="M2435,470 V516 L2420,553 L2430,563 L2526,582 V611" fill="none" stroke="#4aaee9" stroke-width="8" />
<path d="M2435,470 V516 L2420,553 L2430,563 L2526,582 V611" fill="none" stroke="#cfe2f6" stroke-width="4" />
<rect x="2519" y="596" width="26" height="7" fill="#a6d0f3" stroke="#4aaee9" stroke-width="1.5"/>
<path d="M2130.5,415.5 H2232 V464 L2222,450 L2208,444 L2200,436 L2178,425 Q2172,421 2165,424 L2150,427 Z" fill="#f4f8fd" />
<path d="M2152,429 L2130.5,415.5 H2232 V464" fill="none" stroke="#4aaee9" stroke-width="1.8" />
<path d="M2150,427 L2165,424 Q2172,421 2178,425 L2200,436 L2208,444 L2222,450 L2234,465 L2256,490 L2279,512 L2307,532 L2314,541 V547 H2250 L2259,532 L2242,512 L2222,493 L2203,473 L2177,450 Z" fill="#2fa3e5" />
<rect x="2176" y="546" width="142" height="5" fill="#8cc8f0" stroke="#4aaee9" stroke-width="1.5"/>
<path d="M2226,547 V540 L2242,530 H2256 V547 Z" fill="#b9d9f5" stroke="#4aaee9" stroke-width="1.5" />
<rect x="2226" y="551" width="90" height="9" fill="#a6d0f3" stroke="#4aaee9" stroke-width="1.5"/>
<rect x="2258" y="560" width="32" height="40" fill="#b9d9f5" stroke="#6cb8eb" stroke-width="1.5"/>
<rect x="2226" y="572" width="7" height="18" fill="#b9d9f5" stroke="#4aaee9" stroke-width="1.5"/>
<rect x="2127" y="586" width="23" height="7" fill="#0b9de2" />
<rect x="2127" y="664" width="135" height="7.5" fill="#0b9de2" />
<rect x="2204" y="586" width="10" height="14" fill="#0b9de2" />
<rect x="2127" y="516" width="6" height="80" fill="#0b9de2" />
<path d="M2200,622 H2258 V600 H2300 V640 H2200 Z" fill="#d3e5f7" stroke="opacity="0.7"" stroke-width="0" />
<path d="M2258,560 H2290 L2422,618 L2418,634 L2406,668 L2290,606 H2258 Z" fill="#c0dbf5" stroke="#4aaee9" stroke-width="2" />
<polyline points="2292,607 2304,581 2313.5,615" fill="none" stroke="#4aaee9" stroke-width="2" />
<polyline points="2313.5,616.1 2325.5,590.6 2335,624.1" fill="none" stroke="#4aaee9" stroke-width="2" />
<polyline points="2335,625.2 2347,600.2 2356.5,633.2" fill="none" stroke="#4aaee9" stroke-width="2" />
<polyline points="2356.5,634.3 2368.5,609.8 2378,642.3" fill="none" stroke="#4aaee9" stroke-width="2" />
<polyline points="2378,643.4 2390,619.4 2399.5,651.4" fill="none" stroke="#4aaee9" stroke-width="2" />
<polyline points="2399.5,652.5 2411.5,629 2421,660.5" fill="none" stroke="#4aaee9" stroke-width="2" />
<polyline points="2258,604 2290,606 2406,668 2406,676 2492,676" fill="none" stroke="#4aaee9" stroke-width="2.5" />
<path d="M2406,668 V676 H2492 V640 H2424 Z" fill="#c0dbf5" stroke="#4aaee9" stroke-width="2" />
<polyline points="2428,676 2447,645" fill="none" stroke="#4aaee9" stroke-width="1.8" />
<polyline points="2447,676 2447,645" fill="none" stroke="#4aaee9" stroke-width="1.8" />
<polyline points="2449,676 2468,645" fill="none" stroke="#4aaee9" stroke-width="1.8" />
<polyline points="2468,676 2468,645" fill="none" stroke="#4aaee9" stroke-width="1.8" />
<polyline points="2470,676 2489,645" fill="none" stroke="#4aaee9" stroke-width="1.8" />
<polyline points="2489,676 2489,645" fill="none" stroke="#4aaee9" stroke-width="1.8" />
<path d="M2424,641 Q2432,628 2444,626 Q2452,620 2462,624 Q2472,618 2480,626 Q2490,628 2492,640 Z" fill="#5cb2ea" />
<path d="M2310.4,561 L2321.5,554.7 L2324.7,534 L2331,522 L2337.5,514.7 L2348,507 L2358,502 L2360,496 L2363,503 L2367,498 L2371,494 L2374,503 L2376,505 L2382.3,500.4 L2383,510 L2385.5,518 L2388,522 L2390,527.5 L2393,534 L2395,542 L2392,553 L2397,562 L2401.4,572.3 L2411,591.4 L2420.6,617 L2423.8,629.8 L2414,620 L2404.6,607.4 L2398,610.6 L2388.7,597.8 L2379,599.4 L2372.7,588 L2363,590 L2355,578.7 L2344,580 L2334,569 L2324.7,572 L2318,566 Z" fill="#49aae8" stroke="#49aae8" stroke-width="1.5" stroke-linejoin="round"/>
<path d="M2492,596 H2518 V700 H2478 V676 H2492 Z" fill="#c0dbf5" stroke="#6cb8eb" stroke-width="1.5" />
<g transform="translate(2512,600) rotate(75) scale(0.7,0.7)"><path d="M0,26 Q4,2 32,2 Q44,2 50,12 L56,8 L58,28 L40,22 L45,18 Q40,10 31,10 Q12,10 8,27 Z" fill="#d7e8f8" stroke="#8cc8f0" stroke-width="1.8"/></g>
<path d="M2448,716 Q2446,706 2462,702 Q2482,696 2500,700 Q2520,712 2548,706 Q2566,700 2572,706 Q2560,718 2542,726 Q2516,736 2490,730 Q2474,722 2458,722 Q2450,722 2448,716 Z" fill="#5cb2ea" stroke="#3fa9e8" stroke-width="1.5" />
<path d="M2532,700 L2560,678 H2610 L2634,700 L2640,712 L2580,706 L2572,706 Q2566,700 2548,706 Z" fill="#f4f8fd" stroke="#8cc8f0" stroke-width="1.5" />
<path d="M2580,706 L2672,716 V752 L2570,738 Z" fill="#9ccdf2" stroke="#4aaee9" stroke-width="1.5" />
<path d="M2582,712 L2672,722" fill="none" stroke="#f4f8fd" stroke-width="3" />
<polyline points="2590,724 2586,742" fill="none" stroke="#4aaee9" stroke-width="1.5" />
<polyline points="2608,726 2604,744.4" fill="none" stroke="#4aaee9" stroke-width="1.5" />
<polyline points="2626,728 2622,746.8" fill="none" stroke="#4aaee9" stroke-width="1.5" />
<polyline points="2644,730 2640,749.2" fill="none" stroke="#4aaee9" stroke-width="1.5" />
<polyline points="2662,732 2658,751.6" fill="none" stroke="#4aaee9" stroke-width="1.5" />
<polyline points="2574,728 2672,740" fill="none" stroke="#4aaee9" stroke-width="1.5" />
<circle cx="2158" cy="737" r="23" fill="#7cc1ee" stroke="#3fa9e8" stroke-width="2.5"/>
<polygon points="2146,755 2170,755 2182,768 2134,768" fill="#7cc1ee" stroke="#3fa9e8" stroke-width="2"/>
<circle cx="2157.5" cy="741" r="7" fill="#62b4ea"/>
<rect x="2176" y="718" width="20" height="28" fill="#8cc8f0" stroke="#4aaee9" stroke-width="1.5"/>
<rect x="2196" y="724" width="20" height="13" fill="#b9d9f5" stroke="#4aaee9" stroke-width="1.5"/>
<path d="M2230,707 H2300 Q2314,707 2314,725.5 Q2314,744 2300,744 H2230 Q2215.5,744 2215.5,725.5 Q2215.5,707 2230,707 Z" fill="#8cc8f0" stroke="#4aaee9" stroke-width="2" />
<path d="M2314,725 H2340 Q2346,725 2346,718 V662" fill="none" stroke="#4aaee9" stroke-width="12" />
<path d="M2314,725 H2340 Q2346,725 2346,718 V662" fill="none" stroke="#c6ddf5" stroke-width="7" />
<polygon points="2346,642 2362,662 2330,662" fill="#c6ddf5" stroke="#4aaee9" stroke-width="2.2"/>
<rect x="2342.5" y="660" width="7" height="6" fill="#c6ddf5" />
<rect x="2253" y="754" width="12.5" height="37" fill="#0b9de2" />
<path d="M2681,553 H2786 V560 L2770,571 H2698 L2681,560 Z" fill="#6cb8eb" stroke="#3fa9e8" stroke-width="1.8" />
<rect x="2713" y="545" width="39" height="8" fill="#7cc1ee" stroke="#3fa9e8" stroke-width="1.5"/>
<rect x="2682" y="562" width="8" height="10" fill="#0b9de2" />
<rect x="2777" y="562" width="8" height="10" fill="#0b9de2" />
<polyline points="2731,571 2731,632" fill="none" stroke="#6cb8eb" stroke-width="1.5" />
<path d="M2706,664 Q2708,646 2722,636 Q2730,628 2738,636 Q2752,646 2754,664 Q2730,670 2706,664 Z" fill="#5cb2ea" stroke="#3fa9e8" stroke-width="1.5" />
<polyline points="2731,636 2731,666" fill="none" stroke="#3fa9e8" stroke-width="1.5" />
<path d="M2686,726 Q2712,722 2726,744 L2734,738 L2736,766 L2710,758 L2718,752 Q2708,736 2688,738 Z" fill="#3fa9e8" />
<path d="M2606,478 L2626,494 L2668,478 H2812 Q2831,478 2831,497 V688 Q2831,706 2850,706 H2880" fill="none" stroke="#3fa9e8" stroke-width="22" stroke-linejoin="round"/>
<path d="M2606,478 L2626,494 L2668,478 H2812 Q2831,478 2831,497 V688 Q2831,706 2850,706 H2880" fill="none" stroke="#72baeb" stroke-width="17" stroke-linejoin="round"/>
<rect x="2854" y="392" width="173.5" height="373" fill="none" stroke="#2fa2e5" stroke-width="2.5"/>
<rect x="2865.5" y="401.5" width="150.5" height="363.5" fill="none" stroke="#2fa2e5" stroke-width="2.5"/>
<rect x="2854" y="546" width="173.5" height="10.5" fill="#8cc8f0" stroke="#2fa2e5" stroke-width="2.5"/>
<path d="M2985,402 V398 Q2985,387 2998,387 H3036 Q3055.5,387 3055.5,407 V668 Q3055.5,700 3088,700 H3118" fill="none" stroke="#2fa2e5" stroke-width="24" />
<path d="M2985,402 V398 Q2985,387 2998,387 H3036 Q3055.5,387 3055.5,407 V668 Q3055.5,700 3088,700 H3118" fill="none" stroke="#8cc8f0" stroke-width="19" />
<path d="M2870,408 H2929 V642 L2915,657 V677.5 H2921.5 V713 H2878 V677.5 H2884 V657 L2870,642 Z" fill="#7cc1ee" stroke="#2fa2e5" stroke-width="2.5" />
<polyline points="2870,642 2929,642" fill="none" stroke="#2fa2e5" stroke-width="2" />
<polyline points="2884,657 2915,657" fill="none" stroke="#2fa2e5" stroke-width="2" />
<polyline points="2878,677.5 2921.5,677.5" fill="none" stroke="#2fa2e5" stroke-width="2" />
<path d="M2918,408 H3012 V437.5 H2936 L2918,452 Z" fill="#8cc8f0" stroke="#2fa2e5" stroke-width="2.5" />
<path d="M2960,437.5 H3012 V473 L2996.5,495 H2976 L2960,473 Z" fill="#8cc8f0" stroke="#2fa2e5" stroke-width="2.5" />
<ellipse cx="2986" cy="501.5" rx="13" ry="4" fill="#b9dcf6" stroke="#2fa2e5" stroke-width="2"/>
<path d="M2960,509.5 H3012 V572 L2998,592 H2974 L2960,572 Z" fill="#8cc8f0" stroke="#2fa2e5" stroke-width="2.5" />
<polyline points="2960,546 3012,546" fill="none" stroke="#2fa2e5" stroke-width="2" />
<polyline points="2960,556.5 3012,556.5" fill="none" stroke="#2fa2e5" stroke-width="2" />
<rect x="2961" y="592" width="52" height="7.5" fill="#5cb2ea" stroke="#2fa2e5" stroke-width="1.5"/>
<rect x="2976" y="599.5" width="22" height="4.5" fill="#8cc8f0" stroke="#2fa2e5" stroke-width="1.2"/>
<polyline points="2929,622 2974,601" fill="none" stroke="#2fa2e5" stroke-width="3.5" />
<polyline points="2929,622 2974,601" fill="none" stroke="#c6ddf5" stroke-width="1.2" />
<rect x="2850" y="751" width="18" height="14" fill="#7cc1ee" stroke="#2fa2e5" stroke-width="1.5"/>
<rect x="3011" y="751" width="20" height="14" fill="#7cc1ee" stroke="#2fa2e5" stroke-width="1.5"/>
<path d="M3046,720.02 Q3046,714 3056.75,714 Q3067.5,714 3067.5,720.02 V752.98 Q3067.5,759 3056.75,759 Q3046,759 3046,752.98 Z" fill="#7cc1ee" stroke="#3fa9e8" stroke-width="2" />
<polyline points="3046,719.418 3067.5,736.5" fill="none" stroke="#3fa9e8" stroke-width="2" />
<polyline points="3067.5,719.418 3046,736.5" fill="none" stroke="#3fa9e8" stroke-width="2" />
<polyline points="3046,736.5 3067.5,753.582" fill="none" stroke="#3fa9e8" stroke-width="2" />
<polyline points="3067.5,736.5 3046,753.582" fill="none" stroke="#3fa9e8" stroke-width="2" />
<polyline points="3046,719.418 3067.5,719.418" fill="none" stroke="#3fa9e8" stroke-width="1.5" />
<polyline points="3046,753.582 3067.5,753.582" fill="none" stroke="#3fa9e8" stroke-width="1.5" />
<polygon points="3050.3,758 3063.2,758 3066.43,764 3047.07,764" fill="#7cc1ee" stroke="#3fa9e8" stroke-width="1.5"/>
<path d="M3069,736 H3080 V722" fill="none" stroke="#2fa2e5" stroke-width="3.5" />
<polygon points="3080,713 3086,723 3074,723" fill="#c6ddf5" stroke="#2fa2e5" stroke-width="1.5"/>
<rect x="3107" y="534" width="237.5" height="138.5" fill="#7cc1ee" stroke="#2fa2e5" stroke-width="3"/>
<path d="M3131,575 L3158,553 H3170 L3200,566 L3236,548 H3246 L3272,560 L3296,563 L3314,590 V606 L3300,622 L3270,628 L3248,652 H3170 L3142,628 L3131,615 Z" fill="#8ecaf1" stroke="#2fa2e5" stroke-width="2.2" />
<clipPath id="cbag"><path d="M3131,575 L3158,553 H3170 L3200,566 L3236,548 H3246 L3272,560 L3296,563 L3314,590 V606 L3300,622 L3270,628 L3248,652 H3170 L3142,628 L3131,615 Z"/></clipPath><g clip-path="url(#cbag)" stroke="#2fa2e5" stroke-width="1.8">
<line x1="3142" y1="540" x2="3142" y2="660"/>
<line x1="3152" y1="540" x2="3152" y2="660"/>
<line x1="3162" y1="540" x2="3162" y2="660"/>
<line x1="3172" y1="540" x2="3172" y2="660"/>
<line x1="3186" y1="540" x2="3186" y2="660"/>
<line x1="3192" y1="540" x2="3192" y2="660"/>
<line x1="3200" y1="540" x2="3200" y2="660"/>
<line x1="3206" y1="540" x2="3206" y2="660"/>
<line x1="3222" y1="540" x2="3222" y2="660"/>
<line x1="3232" y1="540" x2="3232" y2="660"/>
<line x1="3244" y1="540" x2="3244" y2="660"/>
<line x1="3252" y1="540" x2="3252" y2="660"/>
<line x1="3262" y1="540" x2="3262" y2="660"/>
<line x1="3276" y1="540" x2="3276" y2="660"/>
<line x1="3284" y1="540" x2="3284" y2="660"/>
<line x1="3292" y1="540" x2="3292" y2="660"/>
<line x1="3302" y1="540" x2="3302" y2="660"/>
</g>
<path d="M3114.5,677 H3336 L3318,714.5 H3131 Z" fill="#7cc1ee" stroke="#2fa2e5" stroke-width="2.5" />
<polyline points="3123,682 3328,682" fill="none" stroke="#2fa2e5" stroke-width="2" />
<rect x="3131" y="714.5" width="187" height="10.5" fill="#8cc8f0" stroke="#2fa2e5" stroke-width="2"/>
<rect x="3107" y="672.5" width="8.5" height="92.5" fill="#7cc1ee" stroke="#2fa2e5" stroke-width="1.5"/>
<rect x="3336" y="672.5" width="8.5" height="92.5" fill="#7cc1ee" stroke="#2fa2e5" stroke-width="1.5"/>
<rect x="3100" y="756" width="23" height="9" fill="#7cc1ee" stroke="#2fa2e5" stroke-width="1.5"/>
<rect x="3329" y="756" width="23" height="9" fill="#7cc1ee" stroke="#2fa2e5" stroke-width="1.5"/>
<rect x="3243" y="729" width="9.5" height="241" fill="#5cb2ea" />
<rect x="3245.5" y="729" width="4.5" height="241" fill="#8cc8f0" />
<circle cx="3395" cy="721" r="36" fill="#8cc8f0" stroke="#2fa2e5" stroke-width="2.5"/>
<polygon points="3376,750 3414,750 3430,765 3361,765" fill="#7cc1ee" stroke="#2fa2e5" stroke-width="2"/>
<path d="M3345,583 H3370 L3395.5,612 V722" fill="none" stroke="#2fa2e5" stroke-width="27" />
<path d="M3345,583 H3370 L3395.5,612 V722" fill="none" stroke="#8cc8f0" stroke-width="22" />
<circle cx="3395.5" cy="722" r="13.5" fill="#8cc8f0"/>
<path d="M3382,722 A13.5,13.5 0 0 0 3409,722" fill="none" stroke="#2fa2e5" stroke-width="2.5" />
<rect x="3409" y="692" width="240" height="25.5" fill="#8cc8f0" />
<polyline points="3409,692 3649,692" fill="none" stroke="#2fa2e5" stroke-width="2.5" />
<polyline points="3409,717.5 3600,717.5" fill="none" stroke="#2fa2e5" stroke-width="2.5" />
<polyline points="3456,692 3456,717.5" fill="none" stroke="#2fa2e5" stroke-width="2" />
<polygon points="3395.5,688 3387,672 3392.5,672 3392.5,634 3398.5,634 3398.5,672 3404,672" fill="#c3e0f7" stroke="#a6d4f5" stroke-width="1.2"/>
<polygon points="3573,704 3557,696 3557,701.5 3496,701.5 3496,706.5 3557,706.5 3557,712" fill="#c3e0f7" stroke="#a6d4f5" stroke-width="1.2"/>
<rect x="1811" y="858.5" width="8.5" height="72.5" fill="#1e9fe3" />
<rect x="1928.5" y="858.5" width="8.5" height="72.5" fill="#1e9fe3" />
<rect x="1818.5" y="873.5" width="111" height="57.5" fill="#02a0e3" />
<rect x="1811" y="927" width="126" height="4" fill="#1e9fe3" />
<polygon points="1867.75,933 1867.75,968 1860.5,968 1873.5,985 1886.5,968 1879.25,968 1879.25,933" fill="#0b9de2" />
<path d="M1858,952 q4,-8 10,-2 M1880,950 q8,-6 12,2 M1862,958 h24" fill="none" stroke="#1e9fe3" stroke-width="3" />
<rect x="1816" y="973.5" width="8.5" height="73.5" fill="#1e9fe3" />
<rect x="1933" y="973.5" width="8.5" height="73.5" fill="#1e9fe3" />
<rect x="1823.5" y="988" width="110.5" height="59" fill="#02a0e3" />
<rect x="1816" y="1043" width="125.5" height="4" fill="#1e9fe3" />
<path d="M1941,1022.5 H2123.5 V1055 H2130 L2118.5,1071.5 L2106.5,1055 H2113.5 V1030 H1941 Z" fill="#119de2" />
<rect x="2062.5" y="1077" width="7" height="42" fill="#1e9fe3" />
<rect x="2161" y="1077" width="7" height="42" fill="#1e9fe3" />
<rect x="2068.5" y="1088" width="93.5" height="31" fill="#02a0e3" />
<rect x="2062.5" y="1115" width="105.5" height="4" fill="#1e9fe3" />
<polygon points="2113.25,1135 2113.25,1154 2108.5,1154 2116.5,1165 2124.5,1154 2119.75,1154 2119.75,1135" fill="#0b9de2" />
<rect x="2062.5" y="1158" width="7" height="42.5" fill="#1e9fe3" />
<rect x="2161" y="1158" width="7" height="42.5" fill="#1e9fe3" />
<rect x="2068.5" y="1167.5" width="93.5" height="33" fill="#02a0e3" />
<rect x="2062.5" y="1196.5" width="105.5" height="4" fill="#1e9fe3" />
<polygon points="2113.25,1214.5 2113.25,1233 2108.5,1233 2116.5,1244 2124.5,1233 2119.75,1233 2119.75,1214.5" fill="#0b9de2" />
<rect x="2062.5" y="1245.5" width="7" height="40" fill="#1e9fe3" />
<rect x="2161" y="1245.5" width="7" height="40" fill="#1e9fe3" />
<rect x="2068.5" y="1254.5" width="93.5" height="31" fill="#02a0e3" />
<rect x="2062.5" y="1281.5" width="105.5" height="4" fill="#1e9fe3" />
<path d="M2117,1318 H2124 V1343.5 H2097 V1347.5 L2084.5,1340 L2097,1333 V1337 H2117 Z" fill="#119de2" />
<polygon points="1312.5,1354.25 1336.5,1354.25 1336.5,1358.5 1347.5,1351 1336.5,1343.5 1336.5,1347.75 1312.5,1347.75" fill="#0b9de2" />
<rect x="1362.5" y="1299" width="8" height="74" fill="#1e9fe3" />
<rect x="1481.5" y="1299" width="8" height="74" fill="#1e9fe3" />
<rect x="1369.5" y="1315" width="113" height="58" fill="#02a0e3" />
<rect x="1362.5" y="1369" width="127" height="4" fill="#1e9fe3" />
<polygon points="1511.5,1353.25 1536,1353.25 1536,1357.5 1547,1350 1536,1342.5 1536,1346.75 1511.5,1346.75" fill="#0b9de2" />
<rect x="1570" y="1330" width="6" height="41.5" fill="#1e9fe3" />
<rect x="1670" y="1330" width="6" height="41.5" fill="#1e9fe3" />
<rect x="1575" y="1339" width="96" height="32.5" fill="#02a0e3" />
<rect x="1570" y="1367.5" width="106" height="4" fill="#1e9fe3" />
<polygon points="1699,1353.25 1724,1353.25 1724,1357.5 1735,1350 1724,1342.5 1724,1346.75 1699,1346.75" fill="#0b9de2" />
<rect x="1753.5" y="1330" width="6" height="41.5" fill="#1e9fe3" />
<rect x="1854" y="1330" width="6" height="41.5" fill="#1e9fe3" />
<rect x="1758.5" y="1339" width="96.5" height="32.5" fill="#02a0e3" />
<rect x="1753.5" y="1367.5" width="106.5" height="4" fill="#1e9fe3" />
<polygon points="1887,1353.25 1912,1353.25 1912,1357.5 1923,1350 1912,1342.5 1912,1346.75 1887,1346.75" fill="#0b9de2" />
<rect x="1941.5" y="1330" width="6" height="41.5" fill="#1e9fe3" />
<rect x="2042" y="1330" width="6" height="41.5" fill="#1e9fe3" />
<rect x="1946.5" y="1339" width="96.5" height="32.5" fill="#02a0e3" />
<rect x="1941.5" y="1367.5" width="106.5" height="4" fill="#1e9fe3" />
<polygon points="1990.75,1382 1990.75,1401 1986,1401 1994,1412 2002,1401 1997.25,1401 1997.25,1382" fill="#0b9de2" />
<polygon points="2730,850.5 2730,885 2723,885 2735.5,901 2748,885 2741,885 2741,850.5" fill="#6cb8eb" />
<polygon points="2824,920.25 2855,920.25 2855,924.5 2870,917 2855,909.5 2855,913.75 2824,913.75" fill="#7cc1ee" />
<polygon points="2832.5,933.5 2827,941 2839,941" fill="#7cc1ee" />
<path d="M2240.5,760 V721 q6,-4 12,0 t12,0 t12,0 t13.5,0 V760" fill="none" stroke="#33a2e5" stroke-width="11.5" />
<path d="M2240.5,760 V721 q6,-4 12,0 t12,0 t12,0 t13.5,0 V760" fill="none" stroke="#86c4ef" stroke-width="6.9" />
<polyline points="2240.5,744 2240.5,1100 2318,1100" fill="none" stroke="#33a2e5" stroke-width="11.5" stroke-linejoin="miter"/>
<polyline points="2240.5,744 2240.5,1100 2318,1100" fill="none" stroke="#86c4ef" stroke-width="6.9" stroke-linejoin="miter"/>
<polygon points="2336,1100 2316,1088 2316,1112" fill="#33a2e5" />
<polygon points="2332.27,1100 2317.87,1091.36 2317.87,1108.64" fill="#86c4ef" />
<polyline points="2290,744 2290,807 2420,807 2420,1040" fill="none" stroke="#33a2e5" stroke-width="11.5" stroke-linejoin="miter"/>
<polyline points="2290,744 2290,807 2420,807 2420,1040" fill="none" stroke="#86c4ef" stroke-width="6.9" stroke-linejoin="miter"/>
<polyline points="2360,1058 2360,1040 2796,1040 2796,1175 3193.5,1175 3193.5,1146" fill="none" stroke="#33a2e5" stroke-width="11.5" stroke-linejoin="miter"/>
<polyline points="2360,1058 2360,1040 2796,1040 2796,1175 3193.5,1175 3193.5,1146" fill="none" stroke="#86c4ef" stroke-width="6.9" stroke-linejoin="miter"/>
<polygon points="2360,1074 2347,1054 2373,1054" fill="#33a2e5" />
<polygon points="2360,1070.27 2350.64,1055.87 2369.36,1055.87" fill="#86c4ef" />
<polyline points="2400,1101 2731.5,1101 2731.5,1364 2931,1364" fill="none" stroke="#33a2e5" stroke-width="11.5" stroke-linejoin="miter"/>
<polyline points="2400,1101 2731.5,1101 2731.5,1364 2931,1364" fill="none" stroke="#86c4ef" stroke-width="6.9" stroke-linejoin="miter"/>
<polygon points="2382,1101 2402,1089 2402,1113" fill="#33a2e5" />
<polygon points="2385.73,1101 2400.13,1092.36 2400.13,1109.64" fill="#86c4ef" />
<polyline points="3225.5,1150 3225.5,1199 2996.5,1199 2996.5,1326" fill="none" stroke="#33a2e5" stroke-width="11.5" stroke-linejoin="miter"/>
<polyline points="3225.5,1150 3225.5,1199 2996.5,1199 2996.5,1326" fill="none" stroke="#86c4ef" stroke-width="6.9" stroke-linejoin="miter"/>
<polygon points="2996.5,1341 2984.5,1324 3008.5,1324" fill="#33a2e5" />
<polygon points="2996.5,1337.83 2987.86,1325.59 3005.14,1325.59" fill="#86c4ef" />
<polyline points="3262,1152 3262,1242" fill="none" stroke="#33a2e5" stroke-width="11.5" stroke-linejoin="miter"/>
<polyline points="3262,1152 3262,1242" fill="none" stroke="#86c4ef" stroke-width="6.9" stroke-linejoin="miter"/>
<path d="M2344.5,1121 V1095 Q2344.5,1078 2361,1078 Q2377.5,1078 2377.5,1095 V1121 Z" fill="#8cc8f0" stroke="#3fa9e8" stroke-width="2" />
<path d="M2320,1120.5 H2399 Q2419,1120.5 2419,1141 Q2419,1161 2399,1161 H2320 Q2300,1161 2300,1141 Q2300,1120.5 2320,1120.5 Z" fill="#9ccdf2" stroke="#3fa9e8" stroke-width="2" />
<polyline points="2312,1135 2407,1135" fill="none" stroke="#3fa9e8" stroke-width="2" />
<polyline points="2359.5,1161 2359.5,1238.5 2515.5,1238.5 2515.5,1178" fill="none" stroke="#33a2e5" stroke-width="10" stroke-linejoin="miter"/>
<polyline points="2359.5,1161 2359.5,1238.5 2515.5,1238.5 2515.5,1178" fill="none" stroke="#86c4ef" stroke-width="5.4" stroke-linejoin="miter"/>
<polygon points="2515.5,1162 2503,1181 2528,1181" fill="#33a2e5" />
<polygon points="2515.5,1165.55 2506.5,1179.23 2524.5,1179.23" fill="#86c4ef" />
<circle cx="2438.5" cy="1238.5" r="13.5" fill="#b4daf6" stroke="#3fa9e8" stroke-width="2"/>
<polygon points="2431,1229 2431,1248 2449,1238.5" fill="none" stroke="#3fa9e8" stroke-width="1.8"/>
<polyline points="2546,1436 2240,1436 2240,1147 2280,1147" fill="none" stroke="#33a2e5" stroke-width="10" stroke-linejoin="miter"/>
<polyline points="2546,1436 2240,1436 2240,1147 2280,1147" fill="none" stroke="#86c4ef" stroke-width="5.4" stroke-linejoin="miter"/>
<polygon points="2297,1147 2278,1135 2278,1159" fill="#33a2e5" />
<polygon points="2293.45,1147 2279.77,1138.36 2279.77,1155.64" fill="#86c4ef" />
<circle cx="2497" cy="1436" r="14" fill="#b4daf6" stroke="#3fa9e8" stroke-width="2"/>
<polygon points="2506,1426 2506,1446 2487,1436" fill="none" stroke="#3fa9e8" stroke-width="1.8"/>
<path d="M2362,1316.96 Q2362,1301 2390.5,1301 Q2419,1301 2419,1316.96 V1388.04 Q2419,1404 2390.5,1404 Q2362,1404 2362,1388.04 Z" fill="#8cc8f0" stroke="#3fa9e8" stroke-width="2" />
<polyline points="2362,1315.36 2419,1352.5" fill="none" stroke="#3fa9e8" stroke-width="2" />
<polyline points="2419,1315.36 2362,1352.5" fill="none" stroke="#3fa9e8" stroke-width="2" />
<polyline points="2362,1352.5 2419,1389.64" fill="none" stroke="#3fa9e8" stroke-width="2" />
<polyline points="2419,1352.5 2362,1389.64" fill="none" stroke="#3fa9e8" stroke-width="2" />
<polyline points="2362,1315.36 2419,1315.36" fill="none" stroke="#3fa9e8" stroke-width="1.5" />
<polyline points="2362,1389.64 2419,1389.64" fill="none" stroke="#3fa9e8" stroke-width="1.5" />
<polygon points="2372,1402 2409,1402 2417,1419 2364,1419" fill="#8cc8f0" stroke="#3fa9e8" stroke-width="1.5"/>
<polyline points="2419,1322.5 2550.5,1322.5 2550.5,1343" fill="none" stroke="#33a2e5" stroke-width="10" stroke-linejoin="miter"/>
<polyline points="2419,1322.5 2550.5,1322.5 2550.5,1343" fill="none" stroke="#86c4ef" stroke-width="5.4" stroke-linejoin="miter"/>
<polygon points="2550.5,1360 2538.5,1341 2562.5,1341" fill="#33a2e5" />
<polygon points="2550.5,1356.45 2541.86,1342.77 2559.14,1342.77" fill="#86c4ef" />
<polygon points="2253,1384.5 2337,1384.5 2337,1378.5 2358,1388.5 2337,1398.5 2337,1392.5 2253,1392.5" fill="#fdfeff" stroke="#a6d4f5" stroke-width="1.5"/>
<path d="M2546,1375 Q2594,1340 2642,1375 Z" fill="#f4f8fd" stroke="#8cc8f0" stroke-width="1.5" />
<rect x="2546" y="1375" width="96" height="70" fill="#5cb2ea" stroke="#3fa9e8" stroke-width="1.5"/>
<rect x="3010" y="1005" width="211" height="41.5" fill="#9ccdf2" stroke="#1f9ee3" stroke-width="3"/>
<polygon points="3188,1048 3188,1086 3179,1086 3193.5,1103 3208,1086 3199,1086 3199,1048" fill="#4eb0ea" />
<polygon points="3176,1106 3277.5,1092.5 3277.5,1157.5 3176,1146.5" fill="#8cc8f0" stroke="#3fa9e8" stroke-width="2"/>
<polyline points="3277.5,1124 3306,1124" fill="none" stroke="#3fa9e8" stroke-width="2" />
<circle cx="3335.5" cy="1124" r="30" fill="#9ccdf2" stroke="#3fa9e8" stroke-width="2.5"/>
<path d="M3315,1124 q10,-18 20,0 t20,0" fill="none" stroke="#3fa9e8" stroke-width="2.5" />
<polygon points="3379,1128 3410.5,1128 3410.5,1133 3427.5,1124 3410.5,1115 3410.5,1120 3379,1120" fill="#4eb0ea" />
<polyline points="3247.5,960 3247.5,969.5 3286,969.5" fill="none" stroke="#33a2e5" stroke-width="10" stroke-linejoin="miter"/>
<polyline points="3247.5,960 3247.5,969.5 3286,969.5" fill="none" stroke="#86c4ef" stroke-width="5.4" stroke-linejoin="miter"/>
<polygon points="3303,969.5 3285,958.5 3285,980.5" fill="#33a2e5" />
<polygon points="3299.64,969.5 3286.68,961.58 3286.68,977.42" fill="#86c4ef" />
<path d="M3351,833.34 Q3351,822 3371.25,822 Q3391.5,822 3391.5,833.34 V874.66 Q3391.5,886 3371.25,886 Q3351,886 3351,874.66 Z" fill="#7cc1ee" stroke="#3fa9e8" stroke-width="2" />
<polyline points="3351,832.206 3391.5,854" fill="none" stroke="#3fa9e8" stroke-width="2" />
<polyline points="3391.5,832.206 3351,854" fill="none" stroke="#3fa9e8" stroke-width="2" />
<polyline points="3351,854 3391.5,875.794" fill="none" stroke="#3fa9e8" stroke-width="2" />
<polyline points="3391.5,854 3351,875.794" fill="none" stroke="#3fa9e8" stroke-width="2" />
<polyline points="3351,832.206 3391.5,832.206" fill="none" stroke="#3fa9e8" stroke-width="1.5" />
<polyline points="3351,875.794 3391.5,875.794" fill="none" stroke="#3fa9e8" stroke-width="1.5" />
<polygon points="3359.1,885 3383.4,885 3389.47,897 3353.03,897" fill="#7cc1ee" stroke="#3fa9e8" stroke-width="1.5"/>
<path d="M3480,833.34 Q3480,822 3500.25,822 Q3520.5,822 3520.5,833.34 V874.66 Q3520.5,886 3500.25,886 Q3480,886 3480,874.66 Z" fill="#7cc1ee" stroke="#3fa9e8" stroke-width="2" />
<polyline points="3480,832.206 3520.5,854" fill="none" stroke="#3fa9e8" stroke-width="2" />
<polyline points="3520.5,832.206 3480,854" fill="none" stroke="#3fa9e8" stroke-width="2" />
<polyline points="3480,854 3520.5,875.794" fill="none" stroke="#3fa9e8" stroke-width="2" />
<polyline points="3520.5,854 3480,875.794" fill="none" stroke="#3fa9e8" stroke-width="2" />
<polyline points="3480,832.206 3520.5,832.206" fill="none" stroke="#3fa9e8" stroke-width="1.5" />
<polyline points="3480,875.794 3520.5,875.794" fill="none" stroke="#3fa9e8" stroke-width="1.5" />
<polygon points="3488.1,885 3512.4,885 3518.47,897 3482.03,897" fill="#7cc1ee" stroke="#3fa9e8" stroke-width="1.5"/>
<polygon points="3367.5,899 3367.5,915 3362,915 3372,928 3382,915 3376.5,915 3376.5,899" fill="#5cb2ea" />
<polygon points="3495,899 3495,915 3489.5,915 3499.5,928 3509.5,915 3504,915 3504,899" fill="#5cb2ea" />
<path d="M3313.5,923.5 H3345 L3350,937 Q3370,940 3390,944 T3430,948 T3470,951 L3512,952 L3519,923.5 H3550.5 V1020.5 H3313.5 Z" fill="#02a0e3" />
<polygon points="3559.5,973.25 3589,973.25 3589,978 3605,970 3589,962 3589,966.75 3559.5,966.75" fill="#7cc1ee" />
<rect x="3609" y="954.5" width="132" height="31.5" fill="#9ccdf2" stroke="#1f9ee3" stroke-width="3"/>
<polygon points="3747.5,973.25 3776,973.25 3776,978 3792,970 3776,962 3776,966.75 3747.5,966.75" fill="#7cc1ee" />
<path d="M2950,1344 H3032 Q3052,1344 3052,1363.5 Q3052,1383 3032,1383 H2950 Q2930.5,1383 2930.5,1363.5 Q2930.5,1344 2950,1344 Z" fill="#9ccdf2" stroke="#5cb2ea" stroke-width="2" />
<polyline points="2931,1364 2970,1364 2982,1350 2994,1364 3006,1350 3018,1364 3052,1364" fill="none" stroke="#4aaee9" stroke-width="2" />
<polyline points="3052,1364 3183.5,1364 3183.5,1278 3236,1278" fill="none" stroke="#33a2e5" stroke-width="10" stroke-linejoin="miter"/>
<polyline points="3052,1364 3183.5,1364 3183.5,1278 3236,1278" fill="none" stroke="#86c4ef" stroke-width="5.4" stroke-linejoin="miter"/>
<circle cx="3182.5" cy="1337" r="16.5" fill="#b4daf6" stroke="#3fa9e8" stroke-width="2"/>
<polygon points="3171,1329 3194,1329 3182.5,1350" fill="none" stroke="#3fa9e8" stroke-width="1.8"/>
<polyline points="2997,1383 2997,1417 3246,1417 3246,1306" fill="none" stroke="#33a2e5" stroke-width="11" stroke-linejoin="miter"/>
<polyline points="2997,1383 2997,1417 3246,1417 3246,1306" fill="none" stroke="#86c4ef" stroke-width="6.4" stroke-linejoin="miter"/>
<polygon points="3246,1290.5 3234,1307.5 3258,1307.5" fill="#33a2e5" />
<polygon points="3246,1293.67 3237.36,1305.91 3254.64,1305.91" fill="#86c4ef" />
<polyline points="3290,1251 3379,1251 3379,1321.5 3418,1321.5" fill="none" stroke="#33a2e5" stroke-width="10" stroke-linejoin="miter"/>
<polyline points="3290,1251 3379,1251 3379,1321.5 3418,1321.5" fill="none" stroke="#86c4ef" stroke-width="5.4" stroke-linejoin="miter"/>
<polygon points="3434.5,1321.5 3416.5,1310.5 3416.5,1332.5" fill="#33a2e5" />
<polygon points="3431.14,1321.5 3418.18,1313.58 3418.18,1329.42" fill="#86c4ef" />
<polyline points="3467,1402 3467,1417 3279,1417 3279,1306" fill="none" stroke="#33a2e5" stroke-width="11" stroke-linejoin="miter"/>
<polyline points="3467,1402 3467,1417 3279,1417 3279,1306" fill="none" stroke="#86c4ef" stroke-width="6.4" stroke-linejoin="miter"/>
<polygon points="3279,1290.5 3267,1307.5 3291,1307.5" fill="#33a2e5" />
<polygon points="3279,1293.67 3270.36,1305.91 3287.64,1305.91" fill="#86c4ef" />
<circle cx="3263" cy="1267.5" r="29" fill="#9ccdf2" stroke="#3fa9e8" stroke-width="2.5"/>
<polyline points="3272,1243 3252,1256 3276,1268 3252,1280 3272,1293" fill="none" stroke="#3fa9e8" stroke-width="2.5" />
<path d="M3440,1307.5 H3493.5 V1333.5 L3515.5,1349 V1402.5 H3419 V1349 L3440,1333.5 Z" fill="#9ccdf2" stroke="#2a9de3" stroke-width="2.5" />
<rect x="569" y="184" width="910" height="3" fill="#0c2f5f"/>
<circle cx="1479" cy="185.5" r="12.5" fill="#0c2f5f"/>
<rect x="569" y="387" width="1364.5" height="3" fill="#0c2f5f"/>
<circle cx="1933.5" cy="388.5" r="12.5" fill="#0c2f5f"/>
<rect x="569" y="589" width="1994.5" height="3" fill="#0c2f5f"/>
<circle cx="2563.5" cy="590.5" r="12.5" fill="#0c2f5f"/>
<rect x="568" y="1148" width="614.5" height="3" fill="#0c2f5f"/>
<circle cx="1182.5" cy="1149.5" r="12.5" fill="#0c2f5f"/>
<rect x="2744" y="184" width="2091" height="3" fill="#0c2f5f"/>
<circle cx="2744" cy="185.5" r="12.5" fill="#0c2f5f"/>
<rect x="3536" y="386.5" width="1299" height="3" fill="#0c2f5f"/>
<circle cx="3536" cy="388" r="12.5" fill="#0c2f5f"/>
<rect x="3656.5" y="898.5" width="1178.5" height="3" fill="#0c2f5f"/>
<circle cx="3656.5" cy="900" r="12.5" fill="#0c2f5f"/>
<rect x="3656.5" y="1269.5" width="1178.5" height="3" fill="#0c2f5f"/>
<circle cx="3656.5" cy="1271" r="12.5" fill="#0c2f5f"/>
</svg>
<div class="bn" style="left:153.7px;top:68.3px">01</div>
<div class="bt" style="left:319px;top:113px">异味处理</div>
<div class="bn" style="left:153.7px;top:271.3px">02</div>
<div class="bt" style="left:319px;top:316px">原料存储</div>
<div class="bn" style="left:153.7px;top:473.3px">03</div>
<div class="bt" style="left:319px;top:518px">垃圾焚烧</div>
<div class="bn" style="left:152.7px;top:1032.3px">06</div>
<div class="bt" style="left:318px;top:1077px">渗滤液处理</div>
<div class="bn" style="left:4351.7px;top:68.3px">04</div>
<div class="bt" style="left:4517px;top:113px">能源利用</div>
<div class="bn" style="left:4351.7px;top:270.8px">05</div>
<div class="bt" style="left:4517px;top:315.5px">烟气净化</div>
<div class="bn" style="left:4351.7px;top:782.8px">07</div>
<div class="bt" style="left:4517px;top:827.5px">炉渣及飞灰处理</div>
<div class="bn" style="left:4351.7px;top:1153.8px">08</div>
<div class="bt" style="left:4517px;top:1198.5px">能源利用系统</div>
<div class="lb" style="left:1061px;top:711.75px;width:222px;font-size:23px">(垃圾称重磅)</div>
<div class="lb" style="left:1327px;top:436.75px;width:173px;font-size:23px">(空气帘)</div>
<div class="lb" style="left:1641px;top:428.25px;width:198px;font-size:23px">(卸料大厅)</div>
<div class="lb" style="left:1519px;top:682.75px;width:280px;font-size:23px">(化学水处理系统)</div>
<div class="lb" style="left:2024px;top:240.75px;width:200px;font-size:23px">(垃圾吊车)</div>
<div class="lb" style="left:2069px;top:329.75px;width:146px;font-size:23px">(料斗)</div>
<div class="lb" style="left:1877.5px;top:486.75px;width:248.5px;font-size:23px">(垃圾卸料平台)</div>
<div class="lb" style="left:2122px;top:503.75px;width:174px;font-size:23px">(给料器)</div>
<div class="lb" style="left:2262px;top:158.75px;width:199px;font-size:23px">(锅炉汽包)</div>
<div class="lb" style="left:2308px;top:359.75px;width:149px;font-size:23px">(锅炉)</div>
<div class="lb" style="left:1895px;top:701.75px;width:198px;font-size:23px">(垃圾储坑)</div>
<div class="lb" style="left:2116px;top:670.25px;width:272.5px;font-size:23px">(蒸汽空气预热器)</div>
<div class="lb" style="left:2097px;top:785.75px;width:176.5px;font-size:23px">(鼓风机)</div>
<div class="lb" style="left:2406px;top:791.75px;width:301px;font-size:23px">(来自汽机非调抽汽)</div>
<div class="lb" style="left:2646.5px;top:791.75px;width:175px;font-size:23px">(灰渣坑)</div>
<div class="lb" style="left:2633px;top:583.75px;width:201px;font-size:23px">(灰渣吊车)</div>
<div class="lb" style="left:2896px;top:791.25px;width:324px;font-size:23px">(半干法烟气处理系统)</div>
<div class="lb" style="left:3116px;top:481.75px;width:223px;font-size:23px">(布袋除尘器)</div>
<div class="lb" style="left:3352px;top:790.75px;width:172.5px;font-size:23px">(引风机)</div>
<div class="lb" style="left:3624px;top:790.25px;width:149px;font-size:23px">(烟囱)</div>
<div class="lb" style="left:3365px;top:140.75px;width:250px;font-size:23px">(在线监测平台)</div>
<div class="lb" style="left:3365px;top:190.75px;width:250px;font-size:23px">(连接主控DCS)</div>
<div class="lb" style="left:3073px;top:841.75px;width:199px;font-size:23px">(飞灰收集)</div>
<div class="lb" style="left:3224px;top:841.75px;width:172px;font-size:23px">(水泥仓)</div>
<div class="lb" style="left:3492px;top:841.75px;width:198px;font-size:23px">(螯合剂罐)</div>
<div class="lb" style="left:3547.5px;top:990.75px;width:253.5px;font-size:23px">(制砖固化设备)</div>
<div class="lb" style="left:3405px;top:1104.25px;width:198px;font-size:23px">(电表计量)</div>
<div class="lb" style="left:3270px;top:1153.75px;width:223px;font-size:23px">(汽轮发电机)</div>
<div class="lb" style="left:2970px;top:964.75px;width:299px;font-size:23px">(锅炉蒸汽处理集箱)</div>
<div class="lb" style="left:2614px;top:954.75px;width:274px;font-size:23px">(运至专用填埋场)</div>
<div class="lb" style="left:2664.5px;top:986.25px;width:223.5px;font-size:23px">(去地磅计量)</div>
<div class="lb" style="left:2210px;top:1046.75px;width:175.5px;font-size:23px">(除氧器)</div>
<div class="lb" style="left:2517px;top:1046.75px;width:197.5px;font-size:23px">(加热蒸汽)</div>
<div class="lb" style="left:2415px;top:1127.75px;width:199px;font-size:23px">(进入锅炉)</div>
<div class="lb" style="left:2330px;top:1254.75px;width:225px;font-size:23px">(锅炉给水泵)</div>
<div class="lb" style="left:2382px;top:1353.75px;width:200px;font-size:23px">(除盐设备)</div>
<div class="lb" style="left:2613.5px;top:1395.75px;width:198px;font-size:23px">(除盐水箱)</div>
<div class="lb" style="left:2403px;top:1453.75px;width:199px;font-size:23px">(除盐水泵)</div>
<div class="lb" style="left:2873.5px;top:1240.75px;width:149.5px;font-size:23px">(蒸汽)</div>
<div class="lb" style="left:2981px;top:1304.25px;width:149.5px;font-size:23px">(低加)</div>
<div class="lb" style="left:3239px;top:1208.75px;width:176px;font-size:23px">(冷凝器)</div>
<div class="lb" style="left:3032.5px;top:1426.75px;width:198.5px;font-size:23px">(疏水系统)</div>
<div class="lb" style="left:3493px;top:1352.75px;width:171px;font-size:23px">(冷却塔)</div>
<div class="lb" style="left:1248.5px;top:936.75px;width:201px;font-size:23px">(工业污水)</div>
<div class="lb" style="left:1912px;top:877.75px;width:300.5px;font-size:23px">(垃圾渗沥液调节池)</div>
<div class="lb" style="left:1693.5px;top:937.75px;width:200px;font-size:23px">(计量水表)</div>
<div class="lb" style="left:1916px;top:982.25px;width:174px;font-size:23px">(沉淀池)</div>
<div class="lb" style="left:1903px;top:1076.75px;width:175px;font-size:23px">(加温池)</div>
<div class="lb" style="left:1888px;top:1166.25px;width:192px;font-size:23px">(一级A/0)</div>
<div class="lb" style="left:1888px;top:1245.75px;width:192px;font-size:23px">(二级A/0)</div>
<div class="lb" style="left:2024px;top:1348.75px;width:183px;font-size:23px">(UF系统)</div>
<div class="lb" style="left:1141.5px;top:1332.75px;width:200.5px;font-size:23px">(生活污水)</div>
<div class="lb" style="left:1340.5px;top:1381.25px;width:174px;font-size:23px">(污水池)</div>
<div class="lb" style="left:1541.5px;top:1380.25px;width:175.5px;font-size:23px">(沉淀池)</div>
<div class="lb" style="left:1737.5px;top:1380.25px;width:143px;font-size:23px">(A/0)</div>
<div class="lb" style="left:1892px;top:1421.25px;width:207.5px;font-size:23px">(回用系统)</div>
<div class="lb" style="left:3769px;top:997.75px;width:273.5px;font-size:23px;text-align:left">(运至专用填埋场)</div>
<div class="lb" style="left:3769px;top:1027.75px;width:223px;font-size:23px;text-align:left">(去地磅计量)</div>
</div></body></html>
